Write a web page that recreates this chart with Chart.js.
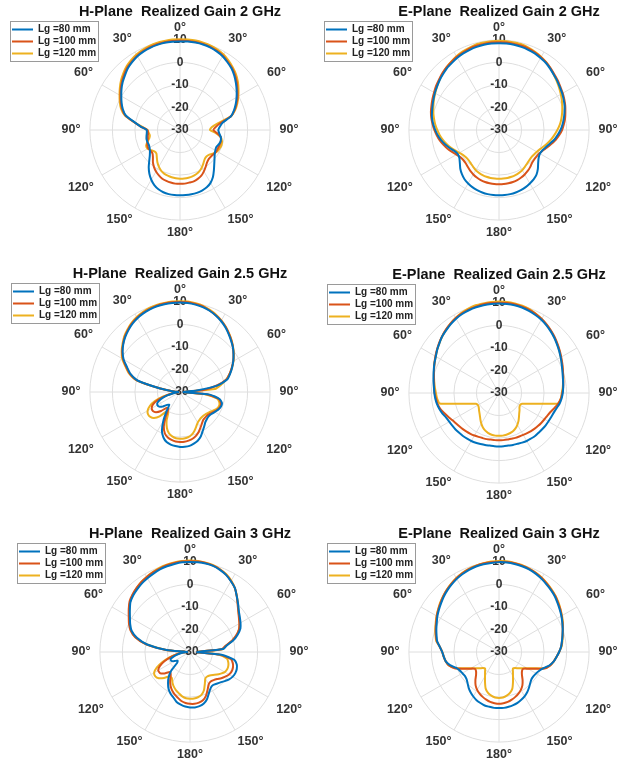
<!DOCTYPE html>
<html>
<head>
<meta charset="utf-8">
<script src="https://cdn.jsdelivr.net/npm/chart.js@4.4.1/dist/chart.umd.min.js"></script>
<style>
  html, body { margin: 0; padding: 0; background: #fff; overflow: hidden; }
  body { width: 629px; height: 760px; position: relative; }
  canvas { position: absolute; }
</style>
</head>
<body>
<canvas id="h2"></canvas>
<canvas id="e2"></canvas>
<canvas id="h25"></canvas>
<canvas id="e25"></canvas>
<canvas id="h3"></canvas>
<canvas id="e3"></canvas>
<script>
// theta in degrees, clockwise from the top (5 degree steps)
const angles = [0, 5, 10, 15, 20, 25, 30, 35, 40, 45, 50, 55,
    60, 65, 70, 75, 80, 85, 90, 95, 100, 105, 110, 115,
    120, 125, 130, 135, 140, 145, 150, 155, 160, 165, 170, 175,
    180, 185, 190, 195, 200, 205, 210, 215, 220, 225, 230, 235,
    240, 245, 250, 255, 260, 265, 270, 275, 280, 285, 290, 295,
    300, 305, 310, 315, 320, 325, 330, 335, 340, 345, 350, 355];
const thetaTicks = [0, 30, 60, 90, 120, 150, 180, 210, 240, 270, 300, 330];
const thetaTickLabels = ['0°', '30°', '60°', '90°', '120°', '150°', '180°', '150°', '120°', '90°', '60°', '30°'];
const rTicks = [-30, -20, -10, 0, 10];
const seriesNames = ['Lg =80 mm', 'Lg =100 mm', 'Lg =120 mm'];

// realized gain, dB
const h2_80 = [9.3, 9.4, 9.4, 9.3, 9.0, 8.5, 7.8, 6.7, 5.6, 4.1, 2.4, 0.7,
    -1.0, -2.7, -4.5, -6.6, -10.7, -12.2, -13.0, -12.5, -11.6, -11.3, -11.6, -12.2,
    -11.9, -11.2, -10.0, -8.5, -6.6, -4.5, -2.9, -1.9, -1.4, -1.1, -1.0, -1.0,
    -1.0, -1.0, -1.1, -1.4, -2.0, -3.0, -4.5, -6.3, -8.4, -10.7, -12.5, -13.7,
    -14.4, -14.7, -14.6, -14.6, -14.9, -15.2, -15.2, -12.5, -9.3, -5.1, -3.0, -1.4,
    0.1, 1.7, 3.2, 4.5, 5.9, 6.9, 7.8, 8.4, 8.8, 9.1, 9.3, 9.3];
const h2_100 = [9.7, 9.7, 9.7, 9.6, 9.3, 8.8, 8.1, 7.0, 5.9, 4.5, 2.9, 1.1,
    -0.5, -2.3, -4.2, -6.6, -11.6, -14.0, -15.2, -13.4, -11.6, -11.2, -11.2, -11.3,
    -11.3, -11.6, -11.9, -11.9, -11.3, -10.1, -8.8, -7.6, -6.9, -6.4, -6.3, -6.1,
    -6.1, -6.1, -6.3, -6.6, -7.0, -7.8, -8.7, -9.9, -11.3, -13.0, -14.0, -14.0,
    -13.7, -14.0, -14.6, -15.2, -15.5, -15.8, -15.5, -12.5, -9.0, -4.8, -2.6, -1.0,
    0.5, 2.1, 3.6, 5.0, 6.3, 7.2, 8.1, 8.7, 9.1, 9.4, 9.6, 9.7];
const h2_120 = [10.3, 10.3, 10.3, 10.1, 9.9, 9.4, 8.7, 7.6, 6.4, 5.1, 3.5, 1.7,
    -0.1, -1.9, -3.9, -6.6, -13.0, -15.9, -16.7, -14.0, -11.6, -10.7, -10.4, -10.6,
    -11.0, -11.9, -13.0, -13.4, -13.0, -11.9, -10.7, -9.7, -9.1, -8.7, -8.5, -8.4,
    -8.4, -8.5, -8.7, -9.0, -9.4, -10.1, -11.2, -12.5, -14.0, -15.2, -15.2, -14.4,
    -13.4, -13.4, -14.6, -15.9, -16.4, -16.0, -15.6, -13.0, -9.0, -4.5, -2.1, -0.5,
    1.0, 2.6, 4.2, 5.6, 6.9, 7.9, 8.7, 9.3, 9.7, 10.0, 10.1, 10.3];

const e2_80 = [8.5, 8.5, 8.4, 8.2, 7.9, 7.5, 6.9, 6.3, 5.4, 4.5, 3.8, 3.0,
    2.4, 1.7, 1.0, 0.1, -0.8, -1.7, -2.7, -3.9, -5.1, -6.6, -7.8, -8.7,
    -9.0, -8.5, -7.3, -5.6, -4.1, -3.2, -2.6, -2.0, -1.6, -1.3, -1.1, -1.0,
    -1.0, -1.0, -1.1, -1.3, -1.6, -2.0, -2.6, -3.3, -4.4, -5.7, -7.3, -8.5,
    -8.8, -8.1, -6.7, -5.3, -3.9, -2.7, -1.7, -0.7, 0.2, 0.8, 1.4, 2.1,
    2.9, 3.6, 4.4, 5.1, 5.9, 6.4, 7.0, 7.5, 7.9, 8.2, 8.4, 8.5];
const e2_100 = [9.0, 9.0, 8.8, 8.7, 8.4, 7.9, 7.3, 6.6, 5.7, 4.8, 4.1, 3.3,
    2.7, 2.0, 1.3, 0.5, -0.2, -1.1, -2.0, -3.2, -4.5, -6.0, -7.3, -8.5,
    -9.3, -9.6, -9.6, -9.3, -8.5, -7.8, -7.2, -6.7, -6.3, -6.1, -6.0, -5.9,
    -5.9, -5.9, -6.0, -6.1, -6.3, -6.7, -7.2, -7.8, -8.5, -9.1, -9.3, -9.0,
    -8.2, -7.0, -5.7, -4.5, -3.3, -2.3, -1.3, -0.4, 0.5, 1.3, 1.9, 2.6,
    3.3, 4.1, 4.8, 5.6, 6.3, 6.9, 7.5, 7.9, 8.4, 8.7, 8.8, 9.0];
const e2_120 = [9.6, 9.6, 9.4, 9.3, 8.8, 8.2, 7.5, 6.6, 5.6, 4.5, 3.5, 2.6,
    1.7, 0.8, -0.1, -1.0, -1.9, -2.9, -4.1, -5.3, -6.4, -7.6, -8.8, -9.9,
    -10.6, -11.0, -11.2, -11.0, -10.6, -10.0, -9.4, -9.0, -8.7, -8.5, -8.4, -8.4,
    -8.4, -8.4, -8.4, -8.5, -8.7, -9.0, -9.4, -10.0, -10.6, -11.0, -11.0, -10.6,
    -9.7, -8.5, -7.2, -5.9, -4.7, -3.6, -2.6, -1.6, -0.7, 0.2, 1.0, 1.9,
    2.7, 3.6, 4.5, 5.4, 6.3, 7.0, 7.8, 8.4, 8.8, 9.3, 9.4, 9.6];

const h25_80 = [9.7, 9.7, 9.4, 9.0, 8.4, 7.5, 6.4, 5.1, 3.6, 2.1, 0.7, -1.0,
    -2.7, -4.5, -6.3, -8.2, -13.0, -22.6, -28.5, -16.7, -12.2, -10.7, -10.7, -11.3,
    -12.2, -13.0, -13.3, -13.1, -12.5, -11.3, -9.9, -8.2, -7.0, -6.3, -5.7, -5.6,
    -5.6, -5.9, -6.3, -7.0, -8.5, -11.0, -15.2, -19.6, -22.6, -21.9, -19.9, -18.7,
    -18.4, -19.0, -21.1, -24.1, -27.0, -28.8, -29.3, -27.0, -21.1, -10.7, -6.6, -4.1,
    -1.1, 1.1, 2.9, 4.4, 5.7, 6.9, 7.8, 8.5, 9.0, 9.4, 9.6, 9.7];
const h25_100 = [10.0, 10.0, 9.7, 9.3, 8.5, 7.6, 6.6, 5.3, 3.8, 2.3, 0.7, -1.0,
    -2.7, -4.7, -6.6, -8.7, -13.4, -19.6, -28.5, -18.1, -12.5, -11.2, -11.0, -11.6,
    -12.5, -13.4, -14.0, -14.1, -13.9, -13.0, -11.8, -10.4, -9.3, -8.5, -8.1, -7.8,
    -7.8, -7.9, -8.4, -9.1, -10.4, -13.0, -17.4, -21.1, -20.8, -18.1, -16.1, -15.3,
    -15.5, -16.7, -19.3, -23.3, -26.7, -28.5, -29.3, -27.0, -21.1, -10.4, -6.3, -3.6,
    -0.8, 1.3, 3.0, 4.7, 6.0, 7.2, 8.1, 8.8, 9.3, 9.7, 9.9, 10.0];
const h25_120 = [10.3, 10.3, 10.0, 9.6, 8.8, 7.9, 6.7, 5.4, 3.9, 2.4, 0.8, -0.8,
    -2.6, -4.5, -6.6, -8.8, -11.5, -14.4, -28.2, -18.9, -13.4, -11.9, -11.6, -12.2,
    -13.3, -14.3, -14.9, -15.2, -15.2, -14.9, -14.3, -13.0, -11.5, -10.3, -9.6, -9.3,
    -9.3, -9.4, -10.0, -11.0, -13.0, -15.9, -19.6, -19.3, -15.9, -13.7, -12.8, -12.7,
    -13.4, -15.2, -18.1, -22.3, -26.3, -28.5, -29.3, -27.0, -21.1, -10.0, -5.9, -3.3,
    -0.4, 1.6, 3.3, 5.0, 6.3, 7.5, 8.4, 9.1, 9.7, 10.0, 10.1, 10.3];

const e25_80 = [9.7, 9.7, 9.6, 9.3, 8.8, 8.2, 7.6, 6.7, 5.7, 4.7, 3.6, 2.6,
    1.6, 0.7, -0.1, -0.7, -1.1, -1.4, -1.7, -2.1, -2.7, -3.6, -4.2, -4.5,
    -4.7, -4.8, -5.0, -5.1, -5.1, -5.3, -5.4, -5.7, -6.0, -6.1, -6.3, -6.3,
    -6.3, -6.3, -6.3, -6.1, -5.9, -5.6, -5.4, -5.3, -5.1, -5.0, -4.8, -4.7,
    -4.5, -4.1, -3.3, -2.6, -2.0, -1.6, -1.3, -1.0, -0.5, 0.1, 0.8, 1.6,
    2.4, 3.5, 4.5, 5.6, 6.4, 7.3, 8.1, 8.7, 9.1, 9.4, 9.6, 9.7];
const e25_100 = [10.1, 10.1, 10.0, 9.7, 9.3, 8.7, 7.9, 7.0, 6.0, 5.0, 3.9, 2.9,
    1.9, 1.0, 0.2, -0.5, -1.0, -1.4, -1.9, -2.4, -3.3, -4.5, -5.6, -6.3,
    -6.7, -7.0, -7.3, -7.6, -7.9, -8.2, -8.5, -8.7, -8.8, -9.0, -9.0, -9.0,
    -9.0, -9.0, -9.0, -8.8, -8.7, -8.5, -8.2, -7.9, -7.6, -7.3, -7.0, -6.6,
    -6.0, -5.1, -4.1, -3.0, -2.3, -1.9, -1.4, -1.1, -0.7, -0.1, 0.7, 1.6,
    2.6, 3.6, 4.7, 5.7, 6.7, 7.6, 8.4, 9.0, 9.4, 9.7, 10.0, 10.1];
const e25_120 = [10.6, 10.6, 10.4, 10.1, 9.6, 8.8, 7.9, 6.9, 5.9, 4.8, 3.8, 2.7,
    1.7, 0.8, 0.1, -0.5, -1.1, -1.6, -2.1, -2.4, -3.3, -11.6, -16.1, -18.7,
    -19.2, -18.9, -18.1, -17.3, -16.2, -14.9, -13.7, -12.7, -11.9, -11.5, -11.2, -11.0,
    -11.0, -11.0, -11.2, -11.6, -12.2, -13.1, -14.3, -15.6, -16.8, -17.7, -18.4, -19.0,
    -19.2, -18.7, -16.1, -11.6, -3.3, -2.4, -2.0, -1.4, -0.8, -0.1, 0.7, 1.6,
    2.4, 3.5, 4.5, 5.6, 6.6, 7.6, 8.5, 9.3, 9.9, 10.3, 10.4, 10.6];

const h3_80 = [10.0, 10.0, 9.9, 9.6, 8.8, 7.8, 6.3, 4.7, 2.3, 0.2, -1.7, -3.0,
    -4.1, -5.3, -7.5, -10.1, -13.4, -15.2, -27.0, -15.9, -10.0, -8.5, -7.9, -7.8,
    -8.1, -8.8, -9.9, -10.9, -11.6, -12.1, -11.6, -10.0, -7.8, -6.3, -5.6, -5.3,
    -5.4, -5.7, -6.3, -7.0, -8.5, -9.6, -11.0, -13.0, -15.2, -18.1, -22.6, -23.3,
    -21.9, -20.8, -20.8, -22.6, -24.8, -27.0, -28.8, -19.6, -10.7, -5.6, -2.4, -0.7,
    0.8, 2.6, 4.5, 5.6, 6.4, 7.2, 7.8, 8.4, 9.0, 9.4, 9.7, 10.0];
const h3_100 = [10.3, 10.3, 10.1, 9.7, 9.0, 7.9, 6.4, 4.7, 2.3, -0.1, -2.0, -3.5,
    -4.7, -6.0, -8.1, -10.7, -14.0, -15.9, -27.0, -16.7, -11.5, -10.3, -9.7, -9.6,
    -10.0, -10.9, -11.9, -13.0, -13.7, -14.0, -13.4, -11.5, -9.3, -7.8, -7.2, -6.9,
    -7.0, -7.3, -7.9, -9.0, -10.0, -11.2, -12.7, -14.6, -16.7, -17.4, -15.2, -13.7,
    -13.7, -15.2, -17.9, -21.1, -24.1, -26.7, -28.8, -19.3, -10.0, -4.8, -1.9, -0.1,
    1.4, 3.2, 5.0, 6.1, 7.0, 7.8, 8.4, 9.0, 9.4, 9.9, 10.1, 10.3];
const h3_120 = [10.6, 10.6, 10.3, 9.9, 9.1, 8.1, 6.6, 4.7, 2.4, 0.1, -1.9, -3.3,
    -4.5, -5.9, -7.9, -10.6, -13.7, -15.5, -27.0, -17.4, -13.4, -12.4, -11.9, -11.8,
    -12.2, -13.3, -14.4, -15.6, -16.4, -16.7, -16.4, -14.4, -11.9, -10.3, -9.6, -9.3,
    -9.3, -9.4, -10.0, -11.0, -11.9, -13.0, -14.4, -15.9, -15.9, -13.7, -11.9, -11.2,
    -11.6, -13.7, -17.0, -20.4, -23.8, -26.7, -28.8, -19.3, -10.3, -5.1, -2.1, -0.4,
    1.1, 2.9, 4.7, 5.9, 6.9, 7.8, 8.5, 9.1, 9.7, 10.1, 10.4, 10.6];

const e3_80 = [9.9, 9.9, 9.7, 9.4, 9.0, 8.4, 7.6, 6.7, 5.9, 5.0, 3.9, 2.9,
    2.0, 1.0, 0.1, -0.8, -1.6, -2.3, -3.3, -4.4, -5.4, -6.9, -9.0, -10.3,
    -11.0, -11.3, -11.2, -10.4, -9.3, -8.2, -7.3, -6.6, -6.0, -5.6, -5.3, -5.1,
    -5.1, -5.1, -5.3, -5.4, -5.9, -6.4, -7.2, -8.1, -9.1, -10.3, -11.2, -11.5,
    -11.2, -10.7, -9.6, -7.5, -6.0, -5.4, -4.8, -3.6, -2.1, -1.3, -0.4, 0.5,
    1.6, 2.6, 3.6, 4.7, 5.7, 6.6, 7.5, 8.2, 8.8, 9.3, 9.6, 9.7];
const e3_100 = [10.1, 10.1, 10.0, 9.7, 9.3, 8.7, 7.9, 7.0, 6.1, 5.3, 4.2, 3.2,
    2.1, 1.1, 0.1, -0.8, -1.6, -2.3, -3.3, -4.4, -5.4, -6.6, -8.5, -12.5,
    -15.2, -17.0, -16.7, -15.6, -13.7, -11.9, -10.6, -9.6, -8.8, -8.1, -7.5, -7.2,
    -7.0, -7.2, -7.5, -8.1, -8.8, -9.6, -10.6, -11.9, -13.7, -15.6, -16.7, -17.0,
    -15.2, -12.5, -9.0, -7.0, -6.0, -5.4, -4.8, -3.6, -1.9, -1.0, -0.1, 0.8,
    1.9, 2.9, 3.9, 5.0, 6.0, 6.9, 7.8, 8.5, 9.1, 9.6, 9.9, 10.0];
const e3_120 = [10.4, 10.4, 10.1, 9.9, 9.4, 8.8, 8.1, 7.2, 6.3, 5.4, 4.4, 3.3,
    2.3, 1.3, 0.2, -0.7, -1.4, -2.1, -3.3, -4.4, -5.4, -6.6, -8.8, -13.0,
    -15.6, -17.4, -18.7, -19.9, -20.4, -19.2, -17.6, -15.3, -12.7, -11.2, -10.3, -9.7,
    -9.6, -9.7, -10.3, -11.2, -12.7, -15.3, -17.6, -19.2, -20.4, -19.9, -18.7, -17.4,
    -15.6, -13.0, -9.3, -7.0, -6.0, -5.4, -4.8, -3.6, -1.7, -0.8, 0.1, 1.0,
    2.0, 3.0, 4.1, 5.1, 6.1, 7.0, 7.9, 8.7, 9.3, 9.7, 10.0, 10.3];

const colors = ['#0072BD', '#D95319', '#EDB120'];
const font = "'Liberation Sans', Arial, Helvetica, sans-serif";

// nudge the corner-anchored angle labels toward matlab's centred placement
const labelPadding = { 0: -3.5, 30: -1.5, 60: 2.5, 90: 1.5, 120: 1.5, 150: -3, 180: -3.5,
    210: -3, 240: 1.5, 270: 1.5, 300: 2.5, 330: -1.5 };

// thin grey frame round the legend entries, like a matlab legend
const legendFrame = {
    id: 'legendFrame',
    afterDraw(chart) {
        const hb = chart.legend && chart.legend.legendHitBoxes;
        if (!hb || !hb.length) return;
        const left = Math.min(...hb.map(b => b.left)) - 2;
        const right = Math.max(...hb.map(b => b.left + b.width)) + 2;
        const top = hb[0].top - 3;
        const last = hb[hb.length - 1];
        const bottom = last.top + last.height + 3;
        const ctx = chart.ctx;
        ctx.save();
        ctx.strokeStyle = '#9a9a9a';
        ctx.lineWidth = 1;
        ctx.strokeRect(Math.round(left) + 0.5, Math.round(top) + 0.5, Math.round(right - left), Math.round(bottom - top));
        ctx.restore();
    }
};

const makePanel = (id, cx, cy, legendX, title, series) => {
    const canvas = document.getElementById(id);
    const left = legendX - 10;
    canvas.width = 2 * (cx - left);
    canvas.height = 240;
    canvas.style.left = left + 'px';
    canvas.style.top = (cy - 130) + 'px';

    new Chart(canvas.getContext('2d'), {
        type: 'radar',
        data: {
            labels: angles,
            datasets: series.map((s, i) => ({
                label: seriesNames[i],
                data: s,
                borderColor: colors[i],
                backgroundColor: colors[i],
                borderWidth: 2,
                pointRadius: 0,
                fill: false,
                tension: 0.2
            }))
        },
        options: {
            responsive: false,
            animation: false,
            events: [],
            layout: { padding: { left: 10, right: 10, top: 0, bottom: 0 } },
            scales: {
                r: {
                    min: rTicks[0],
                    max: rTicks[rTicks.length - 1],
                    ticks: {
                        stepSize: 10,
                        showLabelBackdrop: false,
                        color: '#333',
                        font: { family: font, size: 12, weight: 'bold' }
                    },
                    grid: { circular: true, color: '#dedede', lineWidth: 1 },
                    angleLines: {
                        color: '#dedede',
                        lineWidth: ctx => thetaTicks.includes(angles[ctx.index]) ? 1 : 0
                    },
                    pointLabels: {
                        padding: ctx => labelPadding[angles[ctx.index]] ?? -3.5,
                        color: '#333',
                        font: { family: font, size: 12.5, weight: 'bold' },
                        callback: (label, index) => {
                            const k = thetaTicks.indexOf(angles[index]);
                            return k >= 0 ? thetaTickLabels[k] : '';
                        }
                    }
                }
            },
            plugins: {
                title: {
                    display: true,
                    text: title,
                    color: '#111',
                    font: { family: font, size: 14.5, weight: 'bold' },
                    padding: { top: 3, bottom: 0 }
                },
                legend: {
                    position: 'chartArea',
                    align: 'start',
                    title: { display: true, text: '', font: { size: 1 }, padding: { top: 21.25, bottom: 0 } },
                    labels: {
                        usePointStyle: true,
                        pointStyle: 'line',
                        pointStyleWidth: 21,
                        boxHeight: 10,
                        padding: 2,
                        color: '#222',
                        font: { family: font, size: 10, weight: 'bold' }
                    }
                },
                tooltip: { enabled: false }
            }
        },
        plugins: [legendFrame]
    });
};

makePanel('h2', 180, 130, 10, 'H-Plane  Realized Gain 2 GHz', [h2_80, h2_100, h2_120]);
makePanel('e2', 499, 130, 324, 'E-Plane  Realized Gain 2 GHz', [e2_80, e2_100, e2_120]);
makePanel('h25', 180, 392, 11, 'H-Plane  Realized Gain 2.5 GHz', [h25_80, h25_100, h25_120]);
makePanel('e25', 499, 393, 327, 'E-Plane  Realized Gain 2.5 GHz', [e25_80, e25_100, e25_120]);
makePanel('h3', 190, 652, 17, 'H-Plane  Realized Gain 3 GHz', [h3_80, h3_100, h3_120]);
makePanel('e3', 499, 652, 327, 'E-Plane  Realized Gain 3 GHz', [e3_80, e3_100, e3_120]);
</script>
</body>
</html>
